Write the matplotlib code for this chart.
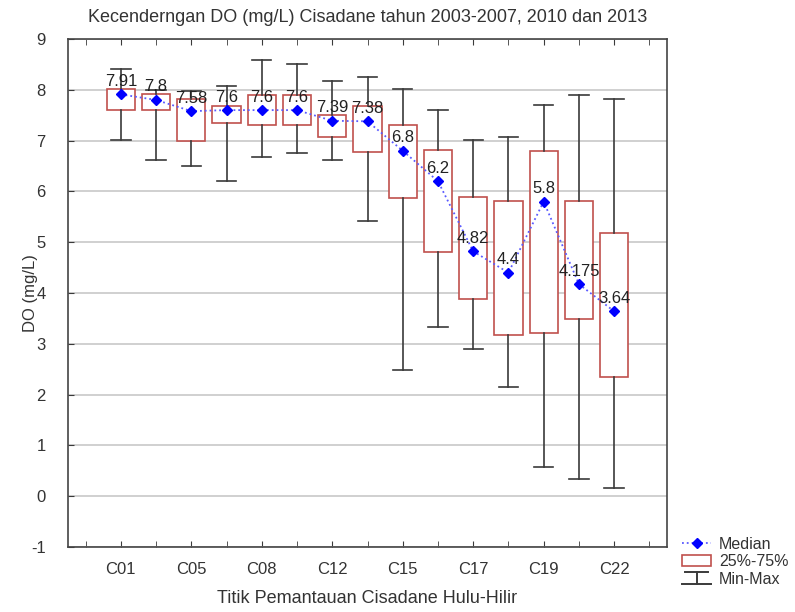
import matplotlib
matplotlib.use("Agg")
import matplotlib.pyplot as plt
from matplotlib.lines import Line2D
from matplotlib.patches import Rectangle
from matplotlib.legend_handler import HandlerBase

plt.rcParams['font.family'] = ['Liberation Sans', 'DejaVu Sans']
plt.rcParams['axes.unicode_minus'] = False

# ---- data ----
tick_labels = ["C01", "C05", "C08", "C12", "C15", "C17", "C19", "C22"]
medians = [7.91, 7.8, 7.58, 7.6, 7.6, 7.6, 7.39, 7.38, 6.8, 6.2, 4.82, 4.4, 5.8, 4.175, 3.64]
q1 = [7.60, 7.60, 6.99, 7.34, 7.30, 7.31, 7.07, 6.78, 5.87, 4.81, 3.89, 3.18, 3.21, 3.49, 2.35]
q3 = [8.02, 7.91, 7.81, 7.69, 7.89, 7.90, 7.51, 7.69, 7.31, 6.81, 5.89, 5.81, 6.80, 5.81, 5.18]
mins = [7.02, 6.61, 6.50, 6.21, 6.67, 6.76, 6.61, 5.41, 2.49, 3.33, 2.90, 2.14, 0.57, 0.34, 0.17]
maxs = [8.40, 8.00, 7.98, 8.07, 8.58, 8.50, 8.18, 8.26, 8.02, 7.61, 7.01, 7.07, 7.71, 7.90, 7.81]

BOX_C = '#c0504d'
WHISK_C = '#3a3a3a'
MED_C = '#0000ff'
TXT_C = '#333333'
FS = 12

fig = plt.figure(figsize=(7.95, 6.12), dpi=100)
ax = fig.add_axes([68/795, 1-547/612, (667-68)/795, (547-39)/612])

n = len(medians)
positions = list(range(1, n + 1))
stats = []
for i in range(n):
    stats.append(dict(med=medians[i], q1=q1[i], q3=q3[i], whislo=mins[i], whishi=maxs[i], fliers=[]))

ax.bxp(stats, positions=positions, widths=0.8, showfliers=False, patch_artist=True,
       boxprops=dict(facecolor='white', edgecolor=BOX_C, linewidth=1.2),
       whiskerprops=dict(color=WHISK_C, linewidth=1.2),
       capprops=dict(color=WHISK_C, linewidth=1.2),
       medianprops=dict(linewidth=0), capwidths=0.55, zorder=3)

ax.plot(positions, medians, linestyle=':', color='#5a5aff', linewidth=1.3,
        marker='D', markersize=5, markerfacecolor=MED_C, markeredgecolor=MED_C, zorder=5)

for x, v in zip(positions, medians):
    ax.annotate(f"{v:g}", (x, v), xytext=(0, 4), textcoords='offset points',
                ha='center', va='bottom', fontsize=FS, color='#222222', zorder=6)

ax.set_xlim(-0.5, 16.5)
ax.set_ylim(-1, 9)
ax.set_yticks(range(-1, 10))
ax.set_xticks(positions[::2])
ax.set_xticklabels(tick_labels)
ax.set_xticks(list(range(0, 17, 2)), minor=True)
ax.tick_params(axis='x', which='both', direction='in', length=4, top=True, color=WHISK_C,
               pad=11, labelsize=FS, labelcolor=TXT_C)
ax.tick_params(axis='y', direction='in', length=4, labelsize=FS, labelcolor=TXT_C, pad=16, color=WHISK_C)

ax.grid(axis='y', color='#c8c8c8', linewidth=1.2, zorder=0)
ax.set_axisbelow(True)
for s in ax.spines.values():
    s.set_color('#444444')
    s.set_linewidth(1.2)

ax.set_title("Kecenderngan DO (mg/L) Cisadane tahun 2003-2007, 2010 dan 2013",
             fontsize=13, color=TXT_C, pad=12)
ax.set_xlabel("Titik Pemantauan Cisadane Hulu-Hilir", fontsize=13, color=TXT_C)
ax.xaxis.set_label_coords(0.5, (547-590)/508)
ax.set_ylabel("DO (mg/L)", fontsize=FS, color=TXT_C)
ax.yaxis.set_label_coords((38-68)/599, 0.5)


class MinMaxHandler(HandlerBase):
    def create_artists(self, legend, orig_handle, xdescent, ydescent, width, height, fontsize, trans):
        x0, x1 = -xdescent, -xdescent + width
        cx = (x0 + x1) / 2
        y0, y1 = -ydescent, -ydescent + height
        arts = [Line2D([x0 + 2, x1 - 2], [y1, y1]), Line2D([cx, cx], [y0, y1]),
                Line2D([x0, x1], [y0, y0])]
        for a in arts:
            a.set_color(WHISK_C)
            a.set_linewidth(1.4)
            a.set_transform(trans)
        return arts


h_med = Line2D([], [], linestyle=':', color='#5a5aff', marker='D', markersize=5,
               markerfacecolor=MED_C, markeredgecolor=MED_C, linewidth=1.3)
h_box = Rectangle((0, 0), 1, 1, facecolor='white', edgecolor=BOX_C, linewidth=1.2)
h_mm = object()
fig.legend([h_med, h_box, h_mm], ["Median", "25%-75%", "Min-Max"],
           handler_map={object: MinMaxHandler()},
           loc='lower left', bbox_to_anchor=(676/795, 1-593/612), frameon=False,
           fontsize=11.5, labelcolor=TXT_C, handlelength=1.8, handletextpad=0.5,
           labelspacing=0.15, borderaxespad=0)

fig.savefig("out.png", dpi=100)
